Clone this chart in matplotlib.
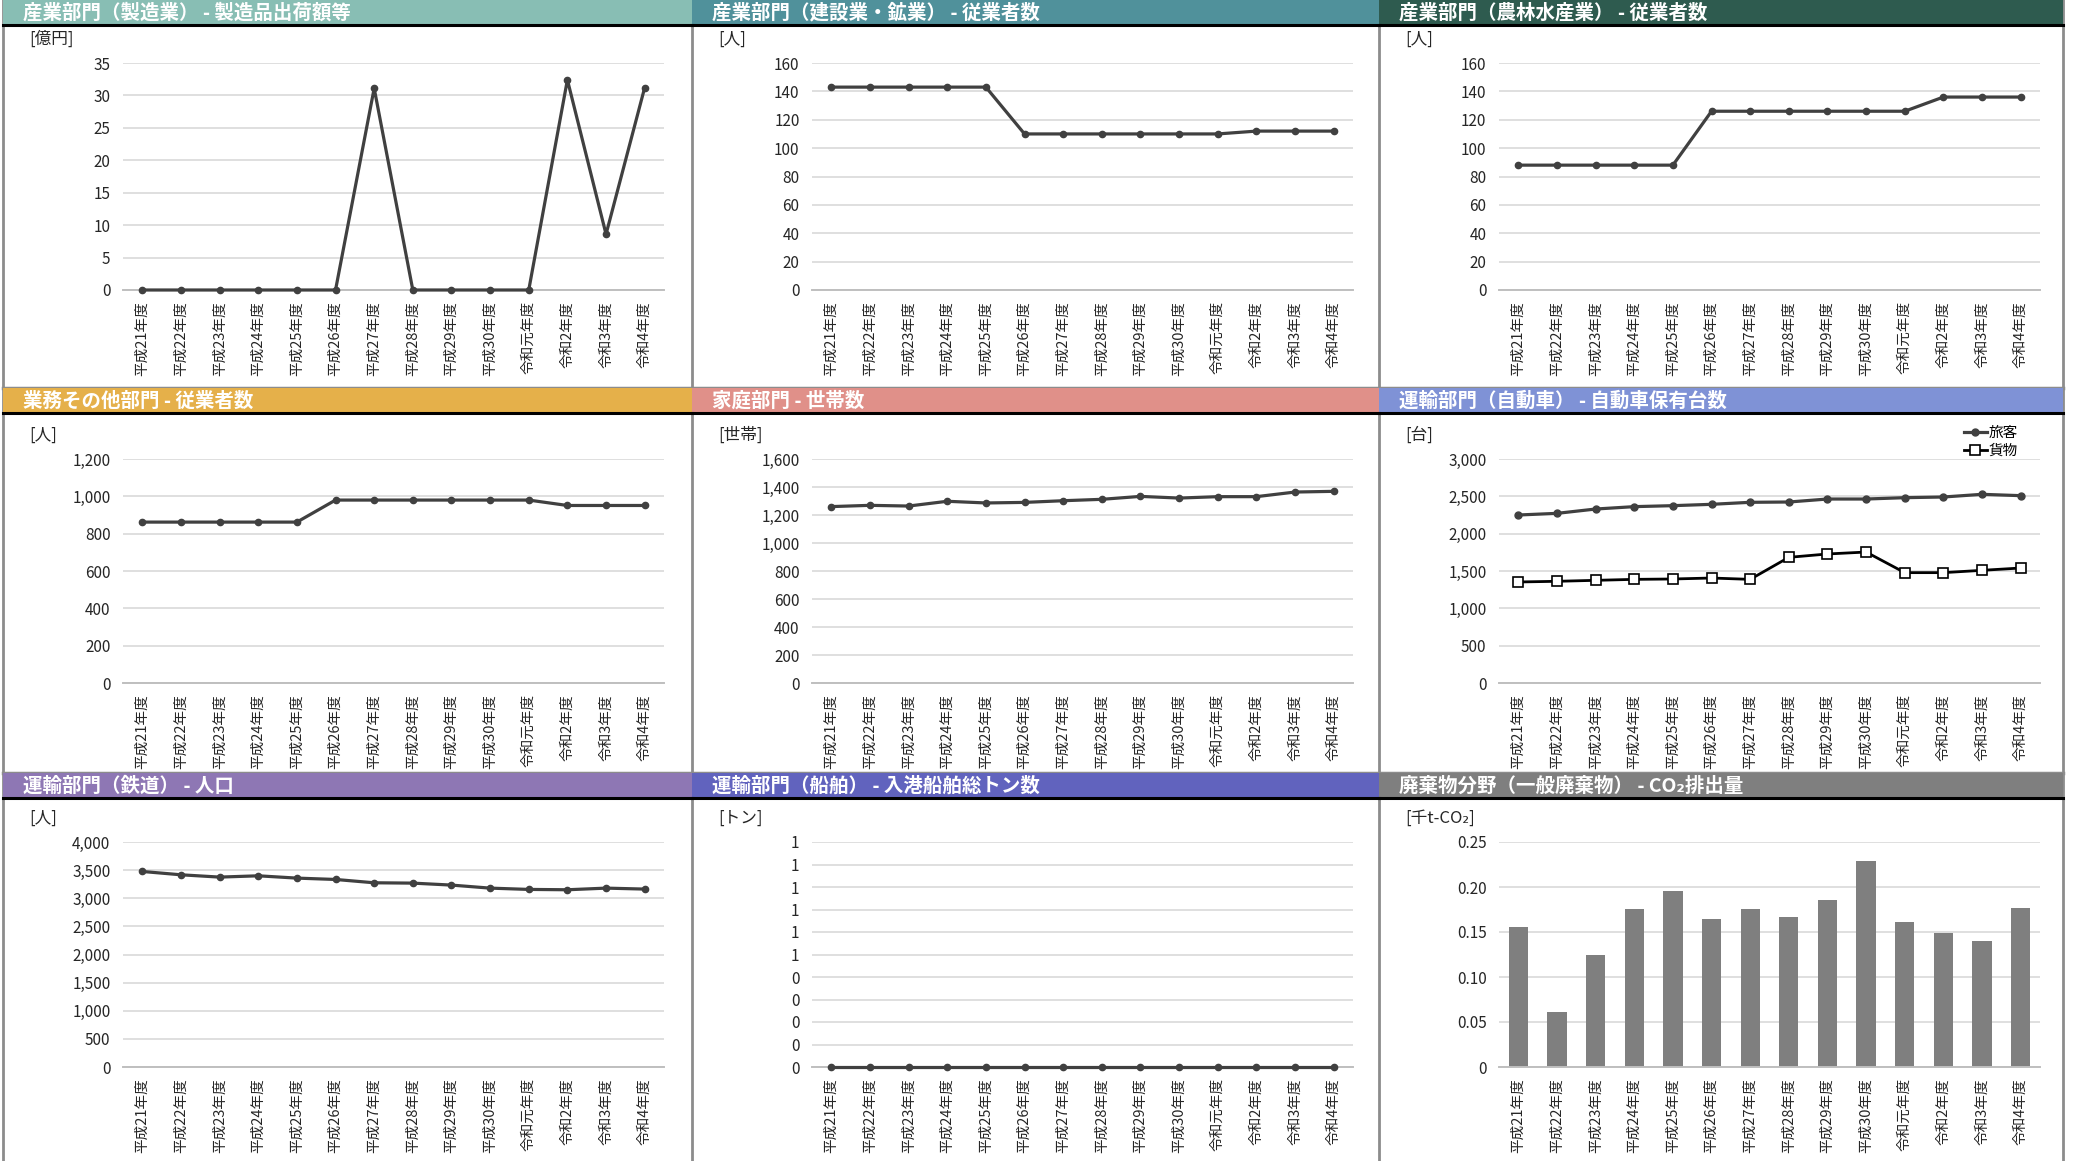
import numpy as np
import matplotlib.pyplot as plt
from matplotlib.ticker import FuncFormatter, MultipleLocator
from matplotlib.patches import Rectangle
from matplotlib.lines import Line2D

plt.rcParams['font.family'] = ['Noto Sans CJK JP', 'DejaVu Sans']

# ---- data ----
years = ['平成21年度', '平成22年度', '平成23年度', '平成24年度', '平成25年度',
         '平成26年度', '平成27年度', '平成28年度', '平成29年度', '平成30年度',
         '令和元年度', '令和2年度', '令和3年度', '令和4年度']

manufacturing = [0, 0, 0, 0, 0, 0, 31.1, 0, 0, 0, 0, 32.4, 8.6, 31.2]
construction = [143, 143, 143, 143, 143, 110, 110, 110, 110, 110, 110, 112, 112, 112]
agriculture = [88, 88, 88, 88, 88, 126, 126, 126, 126, 126, 126, 136, 136, 136]
business = [862, 862, 862, 862, 862, 980, 980, 980, 980, 980, 980, 951, 951, 951]
households = [1260, 1269, 1264, 1298, 1286, 1290, 1302, 1312, 1333, 1321, 1331, 1331, 1364, 1369]
cars_passenger = [2250, 2272, 2330, 2362, 2375, 2393, 2420, 2424, 2464, 2464, 2482, 2491, 2527, 2509]
cars_freight = [1353, 1362, 1375, 1388, 1393, 1406, 1388, 1683, 1728, 1754, 1478, 1478, 1509, 1540]
rail_population = [3476, 3417, 3376, 3399, 3358, 3334, 3275, 3269, 3234, 3180, 3157, 3151, 3180, 3163]
ship_tonnage = [0] * 14
waste_co2 = [0.156, 0.061, 0.124, 0.176, 0.196, 0.165, 0.176, 0.167, 0.186, 0.229, 0.161, 0.149, 0.140, 0.177]

titles = ['産業部門（製造業） - 製造品出荷額等', '産業部門（建設業・鉱業） - 従業者数',
          '産業部門（農林水産業） - 従業者数', '業務その他部門 - 従業者数', '家庭部門 - 世帯数',
          '運輸部門（自動車） - 自動車保有台数', '運輸部門（鉄道） - 人口',
          '運輸部門（船舶） - 入港船舶総トン数', '廃棄物分野（一般廃棄物） - CO₂排出量']
units = ['[億円]', '[人]', '[人]', '[人]', '[世帯]', '[台]', '[人]', '[トン]', '[千t-CO₂]']
header_colors = ['#88BEB4', '#50919B', '#2E5B4F', '#E5B04A', '#E09089',
                 '#7F92D6', '#8E77B4', '#6163BE', '#7F7F7F']

# ---- layout (pixels) ----
W, H = 2081, 1161
col_left = [3, 692, 1379]
col_right = [692, 1379, 2063]
row_top = [0, 388, 773]
ax_y = [(63, 290), (459, 683), (842, 1067)]
hdr_h = 24

fig = plt.figure(figsize=(W / 100, H / 100), dpi=100)
fig.patch.set_facecolor('white')


def fx(x):
    return x / W


def fy(y):
    return 1 - y / H


def comma(v, p):
    return f'{v:,.0f}'


def half_up(v, p):
    return str(int(np.floor(v + 0.5 + 1e-9)))


def dec2(v, p):
    return '0' if abs(v) < 1e-9 else f'{v:.2f}'


def plain(v, p):
    return f'{v:.0f}'


specs = [
    (manufacturing, 35, 5, plain),
    (construction, 160, 20, plain),
    (agriculture, 160, 20, plain),
    (business, 1200, 200, comma),
    (households, 1600, 200, comma),
    (None, 3000, 500, comma),
    (rail_population, 4000, 500, comma),
    (ship_tonnage, 1, 0.1, half_up),
    (None, 0.25, 0.05, dec2),
]

line_c = '#404040'
x = np.arange(len(years))

for i in range(9):
    r, c = divmod(i, 3)
    L, R, T = col_left[c], col_right[c], row_top[r]

    # header band + black rule
    fig.add_artist(Rectangle((fx(L), fy(T + hdr_h)), fx(R - L), hdr_h / H,
                             transform=fig.transFigure, facecolor=header_colors[i],
                             edgecolor='none', zorder=1))
    fig.add_artist(Line2D([fx(L), fx(R)], [fy(T + hdr_h + 1)] * 2, color='black',
                          lw=2.2, transform=fig.transFigure, zorder=2))
    fig.text(fx(L + 20), fy(T + hdr_h / 2 + 1), titles[i], color='white', fontsize=14,
             fontweight='bold', va='center', ha='left')
    fig.text(fx(L + 26), fy((ax_y[r][0] - 24)), units[i], color='#262626',
             fontsize=12, va='center', ha='left')

    y0, y1 = ax_y[r]
    ax = fig.add_axes([fx(L + 120), fy(y1), fx(541), (y1 - y0) / H])
    data, top, step, fmt = specs[i]

    if i == 5:
        ax.plot(x, cars_passenger, color=line_c, lw=2.3, marker='o', ms=5, label='旅客')
        ax.plot(x, cars_freight, color='black', lw=2, marker='s', ms=7,
                mfc='white', mec='black', mew=1.2, label='貨物')
        ax.legend(loc='upper right', bbox_to_anchor=(fx(2025), fy(419)),
                  bbox_transform=fig.transFigure, frameon=False, fontsize=10.5,
                  handlelength=1.6, handletextpad=0.1, labelspacing=0.25,
                  borderpad=0)
    elif i == 8:
        ax.bar(x, waste_co2, width=0.5, color='#7F7F7F', zorder=2)
    else:
        ax.plot(x, data, color=line_c, lw=2.3, marker='o', ms=4.5, clip_on=False, zorder=3)

    ax.set_xlim(-0.5, len(years) - 0.5)
    ax.set_ylim(0, top)
    ax.yaxis.set_major_locator(MultipleLocator(step))
    ax.yaxis.set_major_formatter(FuncFormatter(fmt))
    ax.grid(axis='y', color='#D9D9D9', lw=1.2, zorder=0)
    ax.set_axisbelow(True)
    for s in ['top', 'right', 'left']:
        ax.spines[s].set_visible(False)
    ax.spines['bottom'].set_color('#BFBFBF')
    ax.spines['bottom'].set_linewidth(1.4)
    ax.set_xticks(x)
    ax.set_xticklabels(years, rotation=90, fontsize=10.5, color='#262626')
    ax.tick_params(axis='x', length=0, pad=8)
    ax.tick_params(axis='y', length=0, pad=9, labelsize=11, labelcolor='#262626')
    ax.set_facecolor('none')

# gray panel frame lines
frame_c = '#8C8C8C'
for xv in [3, 692, 1379, 2063]:
    fig.add_artist(Line2D([fx(xv)] * 2, [0, 1], color=frame_c, lw=2,
                          transform=fig.transFigure, zorder=0))
for yv in [388, 773]:
    fig.add_artist(Line2D([fx(3), fx(2063)], [fy(yv)] * 2, color=frame_c, lw=2.5,
                          transform=fig.transFigure, zorder=0))

fig.savefig('out.png', dpi=100, facecolor='white')
